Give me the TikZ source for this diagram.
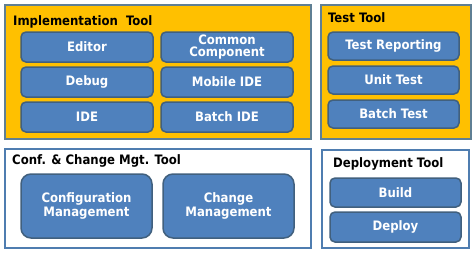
\documentclass[tikz,border=0pt]{standalone}
\usepackage{fontspec}
\setmainfont{DejaVu Sans Condensed}
\definecolor{ylw}{HTML}{FFC000}
\definecolor{blk}{HTML}{4F81BD}
\definecolor{blkedge}{HTML}{41607E}
\definecolor{ybord}{HTML}{5F7F94}
\definecolor{wbord}{HTML}{4F7DB0}
\begin{document}
\begin{tikzpicture}[x=1pt,y=-1pt,
  ybox/.style={draw=ybord,fill=ylw,line width=1.6pt,inner sep=0pt},
  wbox/.style={draw=wbord,fill=white,line width=1.6pt,inner sep=0pt},
  item/.style={draw=blkedge,fill=blk,line width=1.5pt,rounded corners=5pt,
    text=white,font=\bfseries\fontsize{13}{12}\selectfont,align=center,inner sep=0pt},
  bigitem/.style={item,rounded corners=10pt},
  ttl/.style={anchor=base west,font=\bfseries\fontsize{13}{12}\selectfont,inner sep=0pt}]
\useasboundingbox (0,0) rectangle (475,255);
\fill[white] (0,0) rectangle (475,255);
% containers
\node[ybox,minimum width=306pt,minimum height=134pt] (impl) at (158,72) {};
\node[ybox,minimum width=150pt,minimum height=134pt] (test) at (396,72) {};
\node[wbox,minimum width=306pt,minimum height=99pt] (conf) at (158,198.5) {};
\node[wbox,minimum width=147pt,minimum height=98pt] (depl) at (395.5,199) {};
% titles
\node[ttl] (implt) at (13,25) {Implementation~~Tool};
\node[ttl] (testt) at (328,22) {Test Tool};
\node[ttl] (conft) at (12,164) {Conf. \& Change Mgt. Tool};
\node[ttl] (deplt) at (333,167) {Deployment Tool};
% implementation items
\node[item,minimum width=132pt,minimum height=30pt] (editor) at (87,47) {Editor};
\node[item,minimum width=132pt,minimum height=30pt,font=\bfseries\fontsize{13}{12}\selectfont] (common) at (227,47) {Common\\Component};
\node[item,minimum width=132pt,minimum height=30pt] (debug) at (87,82) {Debug};
\node[item,minimum width=132pt,minimum height=30pt] (mobile) at (227,82) {Mobile IDE};
\node[item,minimum width=132pt,minimum height=30pt] (ide) at (87,117) {IDE};
\node[item,minimum width=132pt,minimum height=30pt] (batchide) at (227,117) {Batch IDE};
% test items
\node[item,minimum width=131pt,minimum height=28pt] (report) at (393.5,46) {Test Reporting};
\node[item,minimum width=131pt,minimum height=28pt] (unit) at (393.5,80) {Unit Test};
\node[item,minimum width=131pt,minimum height=28pt] (batcht) at (393.5,114) {Batch Test};
% conf items
\node[bigitem,minimum width=131pt,minimum height=64pt,font=\bfseries\fontsize{13}{14}\selectfont] (config) at (86.5,206) {Configuration\\Management};
\node[bigitem,minimum width=131pt,minimum height=64pt,font=\bfseries\fontsize{13}{14}\selectfont] (change) at (228.5,206) {Change\\Management};
% deployment items
\node[item,minimum width=131pt,minimum height=29pt] (build) at (395.5,192.5) {Build};
\node[item,minimum width=131pt,minimum height=30pt] (deploy) at (395.5,227) {Deploy};
\end{tikzpicture}
\end{document}
